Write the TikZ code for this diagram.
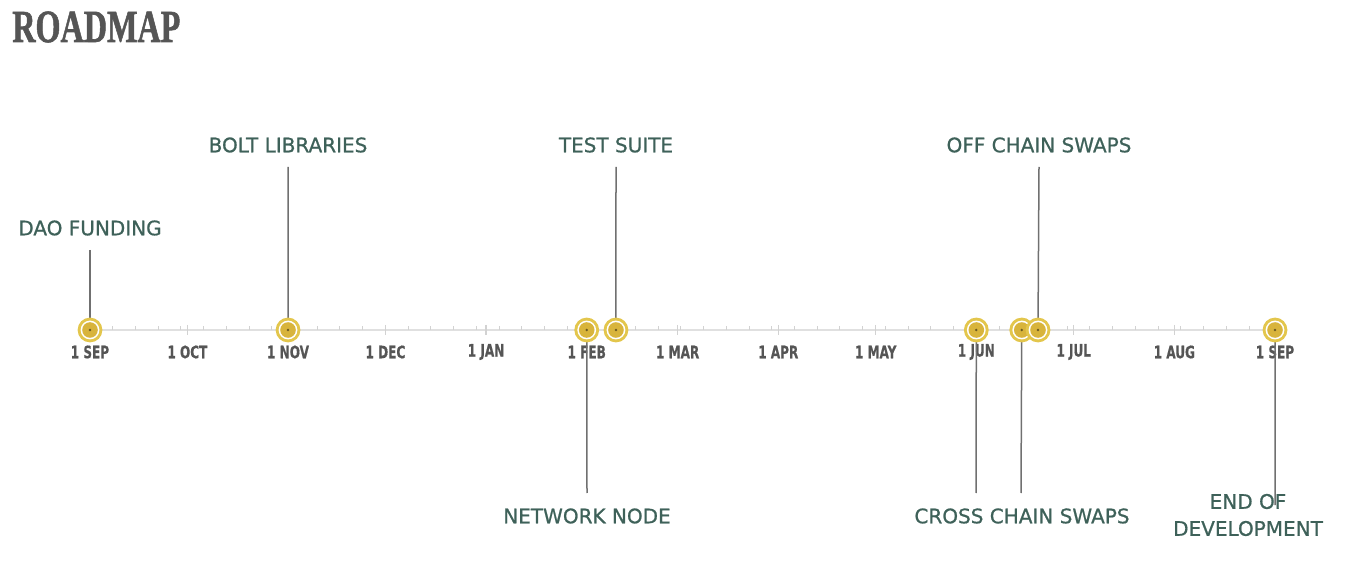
\documentclass[tikz,border=0pt]{standalone}
\usepackage{fontspec}
\setmainfont{DejaVu Sans}
\newfontfamily\titlefont[UprightFont={* Bold},FakeBold=1.5]{Liberation Serif}
\newfontfamily\axisfont[UprightFont={* Bold},FakeBold=0.6]{DejaVu Sans Condensed}
\newfontfamily\evfont[FakeBold=0.8]{DejaVu Sans}
\definecolor{labelc}{HTML}{3E6159}
\definecolor{titlec}{HTML}{555555}
\definecolor{axisc}{HTML}{555555}
\definecolor{goldout}{HTML}{E3C64C}
\definecolor{goldin}{HTML}{D8B43C}
\definecolor{dotc}{HTML}{6B5A22}
\definecolor{linec}{HTML}{707070}
\definecolor{railc}{HTML}{E0E0E0}
\definecolor{tickc}{HTML}{D2D2D2}
\tikzset{
  evlabel/.style={font=\evfont\fontsize{10}{12}\selectfont, text=labelc, inner sep=0pt, align=center},
  monthlabel/.style={font=\axisfont\fontsize{8.6}{10}\selectfont, text=axisc, inner sep=0pt, xscale=0.78},
  connector/.style={draw=linec, line width=0.75pt},
  pin/.pic={
    \fill[goldout] (0,0) circle[radius=6.2pt];
    \fill[white] (0,0) circle[radius=4.7pt];
    \fill[goldin] (0,0) circle[radius=3.9pt];
  }
}
\begin{document}
\begin{tikzpicture}[x=0.5pt,y=-0.5pt]
\useasboundingbox (0,0) rectangle (1349,571);
\def\xday#1{90+#1*3.2466}
% title
\node[anchor=west, inner sep=0pt, text=titlec, font=\titlefont\fontsize{23}{25}\selectfont, xscale=0.7] (title) at (12,27) {ROADMAP};
% rail
\coordinate (railL) at (90,330);
\coordinate (railR) at (1275,330);
\draw[railc, line width=1pt] (railL) -- (railR);
% weekly ticks
\foreach \k in {1,...,52} {
  \draw[tickc, line width=0.5pt] ({\xday{\k*7}},330) -- ({\xday{\k*7}},326);
}
% month ticks and labels
\foreach \d/\m in {0/1 SEP,30/1 OCT,61/1 NOV,91/1 DEC,122/1 JAN,153/1 FEB,181/1 MAR,212/1 APR,242/1 MAY,273/1 JUN,303/1 JUL,334/1 AUG,365/1 SEP} {
  \draw[tickc, line width=0.6pt] ({\xday{\d}},325) -- ({\xday{\d}},335);
  \node[monthlabel] (m\d) at ({\xday{\d}},352) {\m};
}
% event anchor points
\coordinate (eDAO) at ({\xday{0}},330);
\coordinate (eBolt) at ({\xday{61}},330);
\coordinate (eNet) at ({\xday{153}},330);
\coordinate (eTest) at ({\xday{162}},330);
\coordinate (eCross) at ({\xday{273}},330);
\coordinate (eCrossB) at ({\xday{287}},330);
\coordinate (eOff) at ({\xday{292}},330);
\coordinate (eEnd) at ({\xday{365}},330);
% labels
\node[evlabel] (lDAO) at (90,228) {DAO FUNDING};
\node[evlabel] (lBolt) at (288,145) {BOLT LIBRARIES};
\node[evlabel] (lTest) at (616,145) {TEST SUITE};
\node[evlabel] (lOff) at (1039,145) {OFF CHAIN SWAPS};
\node[evlabel] (lNet) at (587,516) {NETWORK NODE};
\node[evlabel] (lCross) at (1022,516) {CROSS CHAIN SWAPS};
\node[evlabel, font=\evfont\fontsize{10}{13.5}\selectfont] (lEnd) at (1248,515) {END OF\\DEVELOPMENT};
% connectors
\coordinate (cDAO) at (90,250);
\coordinate (cBolt) at (288,167);
\coordinate (cTest) at (616,167);
\coordinate (cOff) at (1039,167);
\coordinate (cNet) at (587,493);
\coordinate (cCross) at (976,493);
\coordinate (cCrossB) at (1021,493);
\coordinate (cEnd) at (1275,505);
\draw[connector] (cDAO) -- (eDAO);
\draw[connector] (cBolt) -- (eBolt);
\draw[connector] (cTest) -- (eTest);
\draw[connector] (cOff) -- (eOff);
\draw[connector] (eNet) -- (cNet);
\draw[connector] (eCross) -- (cCross);
\draw[connector] (eCrossB) -- (cCrossB);
\draw[connector] (eEnd) -- (cEnd);
% pins
\foreach \p in {eDAO,eBolt,eNet,eTest,eCross,eCrossB,eOff,eEnd} {
  \pic at (\p) {pin};
}
\foreach \p in {eDAO,eBolt,eNet,eTest,eCross,eCrossB,eOff,eEnd} {
  \fill[dotc] (\p) circle[radius=0.7pt];
}
\end{tikzpicture}
\end{document}
